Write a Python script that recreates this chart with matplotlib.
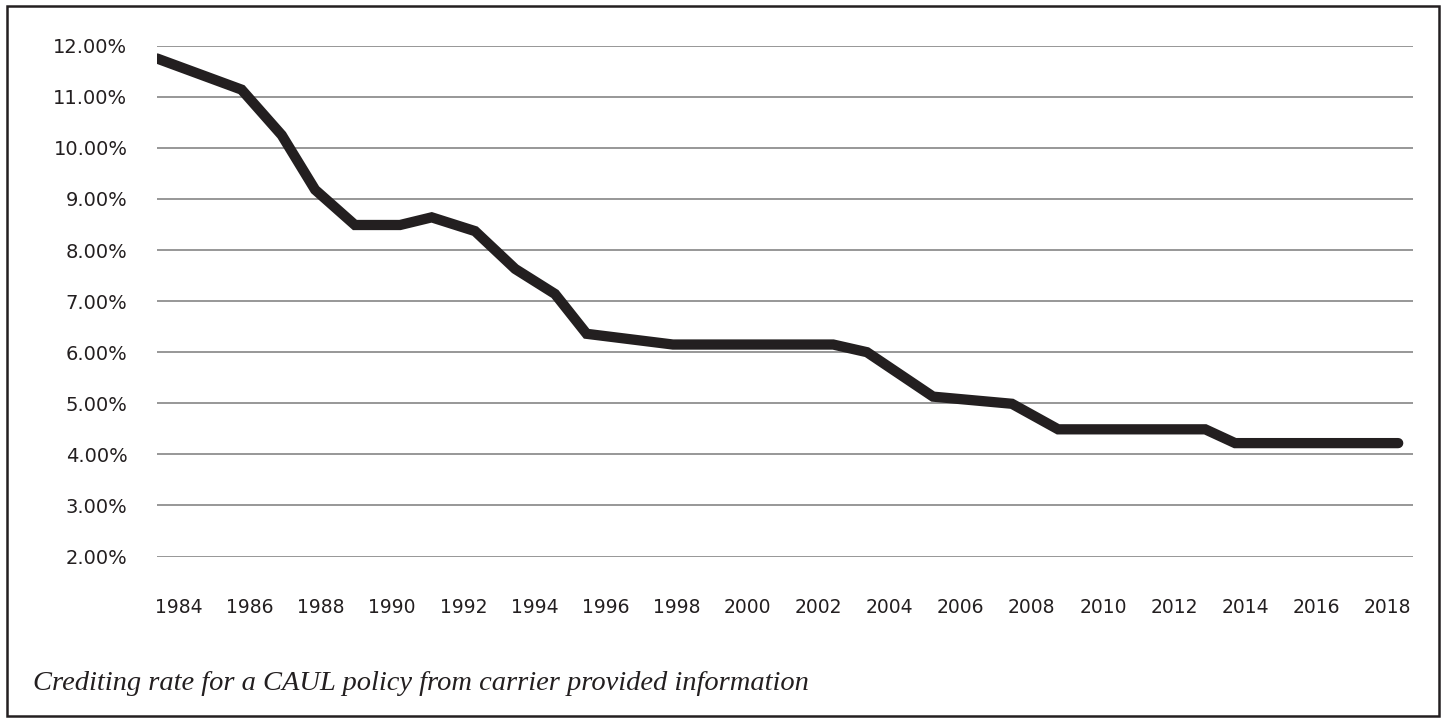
#importing libraries
import matplotlib.pyplot as plt
from matplotlib.patches import Rectangle
from matplotlib.ticker import FuncFormatter

#chart data (turning points of the line)
years = [1983.38, 1985.76, 1986.89, 1987.83, 1988.95, 1990.22, 1991.11, 1992.33,
         1993.46, 1994.58, 1995.47, 1997.90, 2002.41, 2003.36, 2005.22, 2007.44,
         2008.74, 2012.88, 2013.72, 2018.31]
rates = [11.75, 11.14, 10.25, 9.18, 8.49, 8.49, 8.64, 8.37,
         7.63, 7.14, 6.36, 6.15, 6.15, 6.00, 5.13, 4.99,
         4.49, 4.49, 4.22, 4.22]
tick_years = list(range(1984, 2019, 2))
tick_rates = list(range(2, 13))
caption = "Crediting rate for a CAUL policy from carrier provided information"

#figure and plot area
fig = plt.figure(figsize=(14.45, 7.22), dpi=100)
ax = fig.add_axes([0.1084, 0.2292, 0.8693, 0.7075])

#the line
ax.plot(years, rates, color="#231f20", linewidth=7.4,
        solid_capstyle="round", solid_joinstyle="miter", zorder=3)

#axes
ax.set_xlim(1983.37, 2018.72)
ax.set_ylim(2, 12)
ax.set_yticks(tick_rates)
ax.set_xticks(tick_years)
ax.set_xticklabels([str(y) for y in tick_years])
ax.yaxis.set_major_formatter(FuncFormatter(lambda v, p: "{:.2f}%".format(v)))
ax.grid(axis="y", color="#7a7a7a", linewidth=1.1)
ax.set_axisbelow(True)
for s in ax.spines.values():
    s.set_visible(False)
ax.tick_params(axis="y", length=0, pad=21, labelsize=14, labelcolor="#231f20")
ax.tick_params(axis="x", length=0, pad=30, labelsize=13.5, labelcolor="#231f20")

#caption and frame
fig.text(0.023, 0.044, caption, fontsize=20.5, style="italic",
         family="Liberation Serif", color="#231f20", va="baseline")
fig.patches.append(Rectangle((0.005, 0.008), 0.991, 0.983, transform=fig.transFigure,
                             fill=False, edgecolor="#231f20", linewidth=1.8))

fig.savefig("out.png", dpi=100)
